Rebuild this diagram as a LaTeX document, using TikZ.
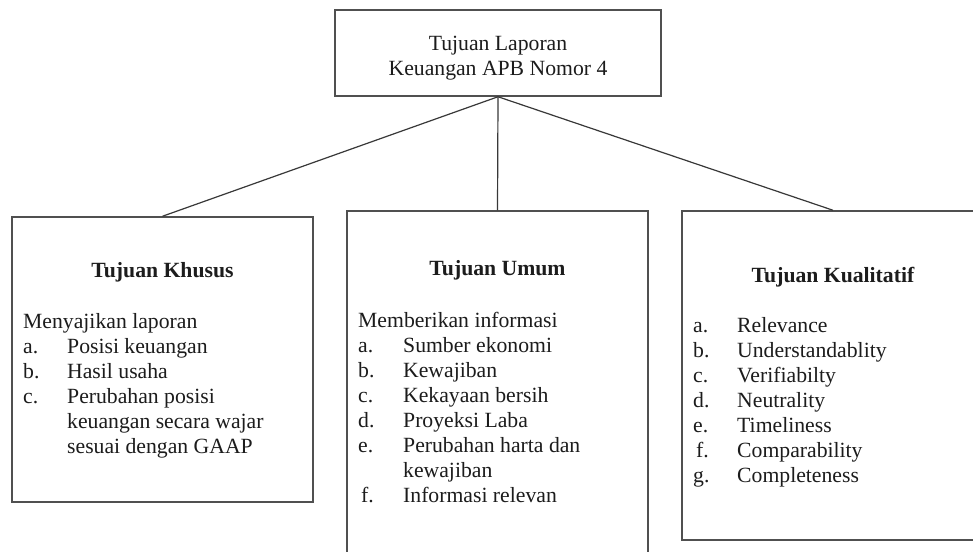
\documentclass[tikz,border=0pt]{standalone}
\usepackage{fontspec}
\setmainfont{Liberation Serif}
\usetikzlibrary{positioning}
\definecolor{boxgray}{HTML}{505050}
\definecolor{inkblack}{HTML}{1C1C1C}
\tikzset{
  goalbox/.style={draw=boxgray, line width=1.5pt, inner sep=0pt},
  txt/.style={text=inkblack, inner sep=0pt, font=\fontsize{21.7}{25}\selectfont},
  heading/.style={txt, font=\fontsize{21.7}{25}\selectfont\bfseries},
  link/.style={draw=boxgray!70!black, line width=1.2pt}
}

\begin{document}
\begin{tikzpicture}[x=1pt, y=-1pt]
          \useasboundingbox (0,0) rectangle (973,551);
          \fill[white] (0,0) rectangle (973,551);
          \clip (0,0) rectangle (973,551);

          % Top box
          \node[goalbox, minimum width=326pt, minimum height=86pt] (apb) at (498,53) {};
          \node[txt, anchor=base] (apbT) at (498,50)
              {\begin{tabular}[t]{@{}c@{}}Tujuan Laporan\\Keuangan APB Nomor 4\end{tabular}};

          % Tujuan Khusus
          \node[goalbox, minimum width=301pt, minimum height=285pt] (khusus) at (162.5,359.5) {};
          \node[heading, anchor=base] (khususT) at (162.5,277) {Tujuan Khusus};
          \node[txt, anchor=base west] (khususL) at (23,328)
              {\begin{tabular}[t]{@{}p{44pt}@{}l@{}}
               \multicolumn{2}{@{}l@{}}{Menyajikan laporan}\\
               a. & Posisi keuangan\\
               b. & Hasil usaha\\
               c. & Perubahan posisi\\
                  & keuangan secara wajar\\
                  & sesuai dengan GAAP
               \end{tabular}};

          % Tujuan Umum
          \node[goalbox, minimum width=301pt, minimum height=360pt] (umum) at (497.5,391) {};
          \node[heading, anchor=base] (umumT) at (497.5,275) {Tujuan Umum};
          \node[txt, anchor=base west] (umumL) at (358,327)
              {\begin{tabular}[t]{@{}p{45pt}@{}l@{}}
               \multicolumn{2}{@{}l@{}}{Memberikan informasi}\\
               a. & Sumber ekonomi\\
               b. & Kewajiban\\
               c. & Kekayaan bersih\\
               d. & Proyeksi Laba\\
               e. & Perubahan harta dan\\
                  & kewajiban\\
               \hspace{3pt}f. & Informasi relevan
               \end{tabular}};

          % Tujuan Kualitatif
          \node[goalbox, minimum width=302pt, minimum height=329pt] (kualitatif) at (833,375.5) {};
          \node[heading, anchor=base] (kualitatifT) at (833,282) {Tujuan Kualitatif};
          \node[txt, anchor=base west] (kualitatifL) at (693,332)
              {\begin{tabular}[t]{@{}p{44pt}@{}l@{}}
               a. & Relevance\\
               b. & Understandablity\\
               c. & Verifiabilty\\
               d. & Neutrality\\
               e. & Timeliness\\
               \hspace{3pt}f. & Comparability\\
               g. & Completeness
               \end{tabular}};

          % Connectors
          \draw[link] (apb.south) -- (khusus.north);
          \draw[link] (apb.south) -- (umum.north);
          \draw[link] (apb.south) -- (kualitatif.north);
\end{tikzpicture}
\end{document}
